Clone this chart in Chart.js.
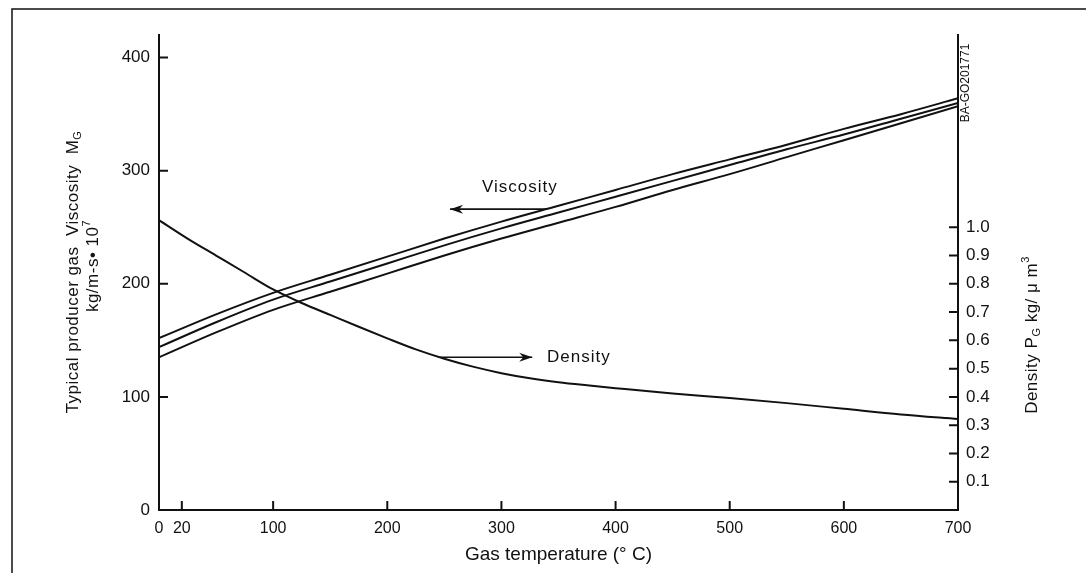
<!DOCTYPE html>
<html>
<head>
<meta charset="utf-8">
<script src="https://cdn.jsdelivr.net/npm/chart.js@4/dist/chart.umd.min.js"></script>
<style>
    body { margin: 0; background: #fff; }
    canvas { display: block; }
</style>
</head>
<body>
<canvas id="grafico" width="1086" height="573"></canvas>
<script>
// temperaturas (°C) e curvas de viscosidade (kg/m-s · 10^7)
const temps = [0, 50, 100, 150, 200, 250, 300, 350, 400, 450, 500, 550, 600, 650, 700];
const viscosityUpper = [152, 173, 192, 208, 224, 240, 255, 269, 283, 297, 310, 323, 337, 350, 364];
const viscosityMiddle = [144, 166, 186, 202, 218, 234, 249, 263, 277, 291, 305, 319, 332, 346, 360];
const viscosityLower = [135, 157, 177, 193, 209, 225, 240, 254, 268, 283, 297, 312, 327, 342, 357];

// densidade (kg/m3)
const densityTemps = [0, 25, 50, 75, 100, 125, 150, 175, 200, 225, 250, 275, 300, 325, 350, 375, 400, 450, 500, 550, 600, 650, 700];
const density = [1.025, 0.96, 0.9, 0.84, 0.78, 0.732, 0.69, 0.648, 0.607, 0.568, 0.535, 0.507, 0.484, 0.466, 0.452, 0.441, 0.431, 0.412, 0.396, 0.378, 0.358, 0.338, 0.322];

// ticks dos eixos
const xTicks = [0, 20, 100, 200, 300, 400, 500, 600, 700];
const viscosityTicks = [0, 100, 200, 300, 400];
const densityTicks = [0.1, 0.2, 0.3, 0.4, 0.5, 0.6, 0.7, 0.8, 0.9, 1.0];

const FONT = "'Liberation Sans', Arial, sans-serif";
const INK = '#111';

function toPoints(xs, ys) {
    return xs.map((t, i) => ({ x: t, y: ys[i] }));
}

function drawRich(ctx, parts, cx, cy, size, rotate) {
    ctx.save();
    ctx.translate(cx, cy);
    if (rotate) ctx.rotate(-Math.PI / 2);
    ctx.letterSpacing = '0.5px';
    ctx.textBaseline = 'middle';
    ctx.textAlign = 'left';
    let total = 0;
    parts.forEach(p => {
        ctx.font = `${p.sub || p.sup ? Math.round(size * 0.65) : size}px ${FONT}`;
        total += ctx.measureText(p.t).width;
    });
    let pos = -total / 2;
    parts.forEach(p => {
        ctx.font = `${p.sub || p.sup ? Math.round(size * 0.65) : size}px ${FONT}`;
        const dy = p.sub ? size * 0.3 : p.sup ? -size * 0.35 : 0;
        ctx.fillText(p.t, pos, dy);
        pos += ctx.measureText(p.t).width;
    });
    ctx.restore();
}

function drawArrow(ctx, x1, y1, x2, y2) {
    ctx.beginPath();
    ctx.moveTo(x1, y1);
    ctx.lineTo(x2, y2);
    ctx.stroke();
    const dir = Math.sign(x2 - x1);
    ctx.beginPath();
    ctx.moveTo(x2, y2);
    ctx.lineTo(x2 - dir * 13, y2 - 4.5);
    ctx.lineTo(x2 - dir * 9, y2);
    ctx.lineTo(x2 - dir * 13, y2 + 4.5);
    ctx.closePath();
    ctx.fill();
}

const extras = {
    id: 'extras',
    afterDraw(chart) {
        const ctx = chart.ctx;
        const area = chart.chartArea;
        const { x, y, y2 } = chart.scales;
        ctx.save();
        ctx.strokeStyle = INK;
        ctx.fillStyle = INK;

        // moldura
        ctx.lineWidth = 1.5;
        ctx.beginPath();
        ctx.moveTo(12, 573);
        ctx.lineTo(12, 9);
        ctx.lineTo(1086, 9);
        ctx.stroke();

        // ticks para dentro
        ctx.lineWidth = 2;
        ctx.beginPath();
        x.ticks.forEach(t => {
            if (t.value <= 0 || t.value >= 700) return;
            const px = x.getPixelForValue(t.value);
            ctx.moveTo(px, area.bottom);
            ctx.lineTo(px, area.bottom - 9);
        });
        y.ticks.forEach(t => {
            if (t.value <= 0) return;
            const py = y.getPixelForValue(t.value);
            ctx.moveTo(area.left, py);
            ctx.lineTo(area.left + 9, py);
        });
        y2.ticks.forEach(t => {
            const py = y2.getPixelForValue(t.value);
            ctx.moveTo(area.right, py);
            ctx.lineTo(area.right - 9, py);
        });
        ctx.stroke();

        // setas e rótulos das curvas
        ctx.lineWidth = 1.6;
        const vy = y.getPixelForValue(266);
        drawArrow(ctx, x.getPixelForValue(340), vy, x.getPixelForValue(255), vy);
        const dy = y2.getPixelForValue(0.54);
        drawArrow(ctx, x.getPixelForValue(246), dy, x.getPixelForValue(327), dy);

        ctx.font = `17px ${FONT}`;
        ctx.letterSpacing = '1px';
        ctx.textBaseline = 'middle';
        ctx.textAlign = 'left';
        ctx.fillText('Viscosity', x.getPixelForValue(283), y.getPixelForValue(285));
        ctx.fillText('Density', x.getPixelForValue(340), dy);
        ctx.restore();

        // títulos dos eixos
        ctx.save();
        ctx.fillStyle = INK;
        drawRich(ctx, [{ t: 'Typical producer gas  Viscosity  M' }, { t: 'G', sub: true }], 73, 272, 17, true);
        drawRich(ctx, [{ t: 'kg/m-s• 10' }, { t: '7', sup: true }], 93, 266, 17, true);
        drawRich(ctx, [{ t: 'Density P' }, { t: 'G', sub: true }, { t: ' kg/ μ m' }, { t: '3', sup: true }], 1032, 335, 17, true);

        ctx.translate(966, 83);
        ctx.rotate(-Math.PI / 2);
        ctx.font = `12px ${FONT}`;
        ctx.textAlign = 'center';
        ctx.textBaseline = 'middle';
        ctx.fillText('BA-GO201771', 0, 0);
        ctx.restore();
    }
};

const lineStyle = {
    borderColor: INK,
    borderWidth: 2,
    pointRadius: 0,
    fill: false,
    cubicInterpolationMode: 'monotone'
};

const ctx = document.getElementById('grafico').getContext('2d');
const myChart = new Chart(ctx, {
    type: 'line',
    data: {
        datasets: [
            { ...lineStyle, label: 'Viscosity (upper)', data: toPoints(temps, viscosityUpper), yAxisID: 'y' },
            { ...lineStyle, label: 'Viscosity (middle)', data: toPoints(temps, viscosityMiddle), yAxisID: 'y' },
            { ...lineStyle, label: 'Viscosity (lower)', data: toPoints(temps, viscosityLower), yAxisID: 'y' },
            { ...lineStyle, label: 'Density', data: toPoints(densityTemps, density), yAxisID: 'y2' }
        ]
    },
    options: {
        responsive: false,
        animation: false,
        devicePixelRatio: 1,
        layout: {
            padding: { top: 35, left: 0, right: 0, bottom: 0 }
        },
        plugins: {
            legend: { display: false },
            tooltip: { enabled: false }
        },
        scales: {
            x: {
                type: 'linear',
                min: 0,
                max: 700,
                afterFit: s => { s.height = 63; },
                afterBuildTicks: s => { s.ticks = xTicks.map(v => ({ value: v })); },
                grid: { display: false, drawTicks: false },
                border: { display: true, color: INK, width: 2 },
                ticks: {
                    color: INK,
                    padding: 9,
                    maxRotation: 0,
                    autoSkip: false,
                    font: { family: FONT, size: 16 }
                },
                title: {
                    display: true,
                    text: 'Gas temperature (° C)',
                    color: INK,
                    font: { family: FONT, size: 19 },
                    padding: { top: 0, bottom: 7 }
                }
            },
            y: {
                type: 'linear',
                position: 'left',
                min: 0,
                max: 420,
                afterFit: s => { s.width = 159; },
                afterBuildTicks: s => { s.ticks = viscosityTicks.map(v => ({ value: v })); },
                grid: { display: false, drawTicks: false },
                border: { display: true, color: INK, width: 2 },
                ticks: {
                    color: INK,
                    padding: 9,
                    font: { family: FONT, size: 17 }
                }
            },
            y2: {
                type: 'linear',
                position: 'right',
                min: 0,
                max: 1.68,
                afterFit: s => { s.width = 128; },
                afterBuildTicks: s => { s.ticks = densityTicks.map(v => ({ value: v })); },
                grid: { display: false, drawTicks: false },
                border: { display: true, color: INK, width: 2 },
                ticks: {
                    color: INK,
                    padding: 8,
                    callback: v => v.toFixed(1),
                    font: { family: FONT, size: 17 }
                }
            }
        }
    },
    plugins: [extras]
});
</script>
</body>
</html>
